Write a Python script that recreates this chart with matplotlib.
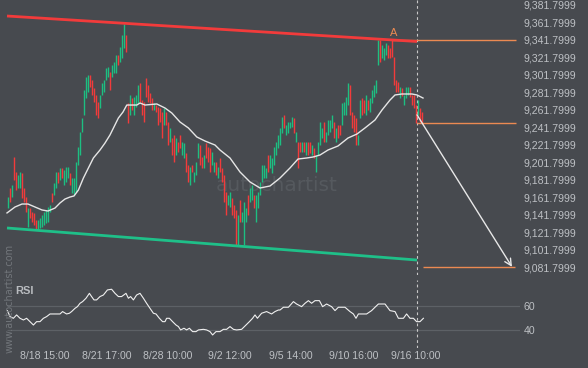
import matplotlib
matplotlib.use("Agg")
import matplotlib.pyplot as plt
import numpy as np

plt.rcParams['font.family'] = ['Liberation Sans', 'DejaVu Sans']

# candle opens / closes, oldest first
opens = [9150, 9172, 9162, 9208, 9191, 9172, 9172, 9190, 9172, 9162,
         9128, 9150, 9145, 9144, 9136, 9124, 9127, 9128, 9130, 9132,
         9134, 9145, 9167, 9164, 9172, 9191, 9182, 9195, 9176, 9179,
         9184, 9190, 9167, 9164, 9168, 9199, 9210, 9236, 9256, 9275,
         9282, 9302, 9296, 9287, 9279, 9271, 9264, 9279, 9282, 9296,
         9299, 9305, 9299, 9304, 9304, 9324, 9316, 9321, 9332, 9347,
         9270, 9256, 9275, 9256, 9265, 9270, 9292, 9273, 9271, 9298,
         9290, 9281, 9275, 9262, 9267, 9265, 9264, 9259, 9244, 9259,
         9248, 9225, 9230, 9233, 9210, 9225, 9233, 9210, 9207, 9212,
         9199, 9176, 9199, 9179, 9187, 9207, 9222, 9208, 9195, 9224,
         9219, 9218, 9199, 9191, 9202, 9184, 9207, 9195, 9187, 9168,
         9153, 9151, 9161, 9153, 9147, 9107, 9159, 9134, 9107, 9134,
         9164, 9156, 9159, 9164, 9134, 9150, 9164, 9179, 9184, 9184,
         9210, 9195, 9190, 9199, 9210, 9218, 9222, 9235, 9256, 9233,
         9235, 9241, 9242, 9252, 9225, 9225, 9225, 9214, 9225, 9210,
         9225, 9225, 9210, 9218, 9191, 9210, 9222, 9230, 9248, 9225,
         9233, 9236, 9241, 9248, 9225, 9244, 9244, 9244, 9256, 9256,
         9267, 9290, 9259, 9256, 9252, 9222, 9252, 9275, 9273, 9256,
         9273, 9259, 9270, 9276, 9281, 9313, 9342, 9321, 9319, 9324,
         9336, 9332, 9342, 9322, 9296, 9294, 9275, 9287, 9267, 9275,
         9279, 9288, 9279, 9279, 9267, 9256, 9264, 9259]
closes = [9162, 9156, 9176, 9182, 9170, 9187, 9191, 9161, 9156, 9145,
          9150, 9138, 9134, 9130, 9124, 9136, 9138, 9142, 9145, 9147,
          9151, 9153, 9156, 9178, 9191, 9178, 9195, 9184, 9193, 9196,
          9196, 9176, 9184, 9184, 9202, 9219, 9236, 9252, 9284, 9299,
          9302, 9288, 9279, 9271, 9256, 9252, 9279, 9292, 9296, 9310,
          9311, 9284, 9313, 9316, 9324, 9313, 9334, 9347, 9360, 9328,
          9247, 9279, 9262, 9276, 9279, 9290, 9271, 9256, 9248, 9276,
          9271, 9270, 9262, 9270, 9259, 9244, 9248, 9230, 9264, 9244,
          9222, 9241, 9210, 9202, 9230, 9214, 9218, 9225, 9224, 9191,
          9179, 9196, 9191, 9191, 9202, 9224, 9199, 9195, 9210, 9207,
          9202, 9191, 9214, 9202, 9187, 9196, 9191, 9179, 9156, 9142,
          9164, 9168, 9142, 9138, 9107, 9142, 9134, 9145, 9156, 9150,
          9142, 9172, 9176, 9150, 9164, 9168, 9179, 9199, 9199, 9195,
          9191, 9210, 9207, 9219, 9225, 9233, 9241, 9254, 9241, 9244,
          9248, 9248, 9254, 9235, 9236, 9195, 9214, 9225, 9214, 9225,
          9210, 9212, 9222, 9207, 9210, 9225, 9248, 9241, 9225, 9236,
          9250, 9250, 9256, 9230, 9241, 9230, 9233, 9270, 9271, 9276,
          9292, 9256, 9241, 9236, 9222, 9233, 9273, 9256, 9258, 9279,
          9262, 9275, 9284, 9290, 9296, 9342, 9316, 9336, 9332, 9338,
          9321, 9321, 9322, 9290, 9282, 9282, 9288, 9278, 9279, 9288,
          9288, 9276, 9267, 9264, 9247, 9273, 9248, 9247]

# moving average (candle index, price)
ma_idx = [-0.5, 3.5, 7, 10, 13.5, 17, 20, 23.5, 26, 28.5, 31, 33, 35.2, 37.7,
          40.2, 42.7, 46, 48.5, 51, 55.2, 57.5, 59.4, 64.4, 66, 68.5, 74.4, 78.5,
          81.9, 86, 90.2, 94.4, 98.5, 103.5, 106, 111, 116, 121, 126, 131, 136,
          141, 145, 149.4, 152.5, 156, 160, 165, 170, 174.5, 178.5, 183.5, 187,
          191, 193.5, 197, 202, 204.5, 207.5]
ma_vals = [9143.9, 9150.7, 9154.1, 9154.1, 9150.7, 9147.3, 9146.1, 9149.5, 9155.3,
           9159.8, 9162.1, 9163.3, 9170.1, 9183.8, 9195.3, 9206.7, 9215.8, 9223.8,
           9233.0, 9252.4, 9259.2, 9267.2, 9267.2, 9269.5, 9267.2, 9268.4, 9263.8,
           9258.1, 9247.8, 9241.0, 9230.7, 9226.1, 9221.5, 9215.8, 9206.7, 9190.7,
           9179.3, 9172.4, 9174.7, 9183.8, 9195.3, 9205.5, 9206.7, 9207.8, 9210.1,
           9215.8, 9220.4, 9229.5, 9234.1, 9241.0, 9250.1, 9261.5, 9272.9, 9278.7,
           9279.8, 9279.8, 9278.7, 9275.2]

# RSI (candle index, value)
rsi_idx = [-0.3, 1, 2.7, 4.3, 6, 7.7, 9.3, 11, 12.7, 14.3,
           16, 17.7, 19.3, 21, 23.5, 26, 27.3, 29.3, 30.7, 31.8,
           33.5, 34.7, 36, 37.3, 39, 40.7, 41.8, 43, 44.3, 46,
           47.7, 49.7, 51.8, 53.5, 55.2, 56.8, 59, 60.2, 61.3, 62.7,
           64.3, 66, 67.7, 69.3, 71, 72.7, 74, 75.7, 77.3, 78.5,
           79.3, 80.7, 82.3, 84, 85.2, 86.3, 88, 89.3, 90.7, 92.3,
           94, 95.2, 97.7, 99.3, 101, 102.3, 104, 106, 107.7, 109.3,
           111, 112.7, 114.3, 116.8, 119, 120.7, 122.3, 123.5, 124.7, 126.8,
           129.3, 131.8, 133.5, 135.2, 136, 137.7, 140.2, 142.7, 144.3, 146.8,
           148.5, 150.2, 151.8, 153.5, 155.7, 157.3, 159.3, 161.8, 163.5, 165.2,
           168.5, 171, 172.7, 174, 175.2, 179.3, 181.8, 183.5, 185.2, 186.8,
           188.5, 191, 193.5, 195.2, 197.7, 199.3, 201, 202.7, 204.3, 206,
           207.7]
rsi_vals = [56.4, 51.4, 50, 52.8, 50, 48.6, 50, 47.2, 44.4, 47.2,
            47.2, 50, 51.4, 53.6, 53.6, 53.6, 55.6, 53.6, 54.2, 55.6,
            58.3, 59.7, 62.5, 63.9, 66.7, 70.8, 68.1, 65.3, 65.3, 68.1,
            69.4, 73.6, 74.2, 70.8, 68.1, 68.1, 70.8, 66.7, 68.1, 65.3,
            69.4, 70.8, 66.7, 62.5, 58.3, 54.2, 53.6, 50, 47.2, 47.2,
            50, 50, 47.2, 44.4, 43.1, 40.3, 41.7, 40.3, 41.7, 38.9,
            38.9, 40.3, 40.8, 40.3, 38.9, 36.1, 38.9, 38.9, 40.8, 40.8,
            43.1, 40.8, 40.3, 40.8, 44.4, 47.2, 50, 52.8, 50, 54.2,
            55.6, 53.6, 55.6, 56.9, 56.9, 59.2, 59.2, 63.9, 61.9, 59.7,
            62.5, 64.7, 62.5, 64.7, 64.7, 59.7, 61.9, 59.7, 56.4, 59.2,
            59.2, 55.6, 53.6, 50, 53.6, 53.6, 56.4, 59.2, 61.9, 61.9,
            61.9, 56.4, 55.6, 50, 50, 53.6, 50, 50, 47.2, 47.2,
            50]

tick_pos = [18.5, 49.4, 79.8, 110.7, 141.5, 172.9, 204.0]
tick_labels = ['8/18 15:00', '8/21 17:00', '8/28 10:00', '9/2 12:00',
               '9/5 14:00', '9/10 16:00', '9/16 10:00']

# channel lines (start / end of pattern)
line_idx = [-0.5, 204.5]
resistance = [9368.9, 9339.8]
support = [9126.7, 9090.1]
pattern_end = 204.5
a_idx = 192
a_level = 9341.8
last_price = 9246.7
arrow_start = 9256.0
target = 9081.8

BG = '#474a4f'
TXT = '#bdc0c4'
GREEN = '#1dbf82'
RED = '#f23b3b'
ORANGE = '#ec8a52'
W, H = 588, 368

fig = plt.figure(figsize=(W / 100, H / 100), dpi=100)
fig.patch.set_facecolor(BG)
ax = fig.add_axes([0, 1 - 275 / H, 520 / W, 275 / H])
rax = fig.add_axes([0, 1 - 348 / H, 520 / W, 68 / H])
for a in (ax, rax):
    a.set_facecolor(BG)
    for s in a.spines.values():
        s.set_visible(False)
    a.set_xlim(-4, 256)
    a.yaxis.tick_right()

# price panel
o = np.array(opens, dtype=float)
c = np.array(closes, dtype=float)
x = np.arange(len(o))
up = c >= o
ax.vlines(x[up], o[up], c[up], color=GREEN, lw=1.0, zorder=2)
ax.vlines(x[~up], o[~up], c[~up], color=RED, lw=1.0, zorder=2)
ax.plot(ma_idx, ma_vals, color='#e6e6e6', lw=1.0, zorder=3)

ax.plot(line_idx, resistance, color=RED, lw=2.0, zorder=4, solid_capstyle='butt')
ax.plot(line_idx, support, color='#1fc089', lw=2.0, zorder=4, solid_capstyle='butt')

ax.hlines(a_level, a_idx, 254, color=ORANGE, lw=1.0, zorder=3)
ax.hlines(last_price, pattern_end, 254, color=ORANGE, lw=1.0, zorder=3)
ax.hlines(target, pattern_end + 3, 253.5, color=ORANGE, lw=1.0, zorder=3)
ax.text(a_idx + 1, 9349.5, 'A', color=ORANGE, fontsize=8, ha='center', va='center')
ax.annotate('', xy=(252, target + 0.5), xytext=(pattern_end, arrow_start),
            arrowprops=dict(arrowstyle='->', color='#e8e8e8', lw=1.0,
                            shrinkA=0, shrinkB=0, mutation_scale=12), zorder=5)

ax.axvline(pattern_end, color='#c8c8c8', lw=0.8, ls=(0, (2.5, 2.5)), zorder=1)
ax.text(0.533, 0.327, 'autochartist', transform=ax.transAxes, fontsize=14.5,
        color='#55595e', ha='center', va='center', zorder=0, family='DejaVu Sans')

ax.set_ylim(9073.0, 9387.2)
ax.set_xticks([])
ax.set_yticks(np.arange(9081.7999, 9390, 20))
ax.set_yticklabels(['{:,.4f}'.format(v) for v in np.arange(9081.7999, 9390, 20)])
ax.tick_params(axis='y', length=0, pad=2.5, labelsize=7.6, labelcolor=TXT)

# RSI panel
rax.set_ylim(25.25, 81.9)
rax.hlines([40, 60], -0.5, 256, color='#5d6166', lw=0.9, zorder=1)
rax.plot(rsi_idx, rsi_vals, color='#f0f0f0', lw=0.8, zorder=3)
rax.axvline(pattern_end, color='#c8c8c8', lw=0.8, ls=(0, (2.5, 2.5)), zorder=2)
rax.text(0.029, 0.84, 'RSI', transform=rax.transAxes, fontsize=8, fontweight='bold',
         color='#b9bcc0', ha='left', va='center')
rax.set_yticks([40, 60])
rax.set_yticklabels(['40', '60'])
rax.set_xticks(tick_pos)
rax.set_xticklabels(tick_labels)
rax.tick_params(axis='both', length=0, labelsize=7.6, labelcolor=TXT)
rax.tick_params(axis='x', pad=2)
rax.tick_params(axis='y', pad=2.5)

fig.text(10 / W, 1 - 298 / H, 'www.autochartist.com', rotation=90, ha='center',
         va='center', fontsize=7, color='#72767b', family='DejaVu Sans')

fig.savefig('out.png', dpi=100, facecolor=BG)
